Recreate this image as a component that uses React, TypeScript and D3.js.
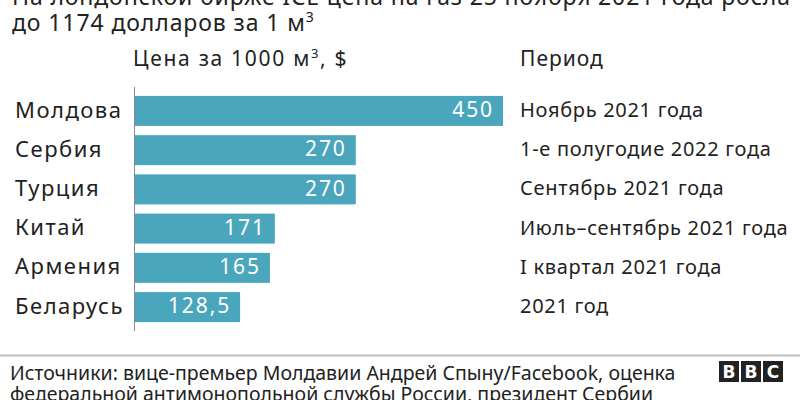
import React from "react";
import * as d3 from "d3";

const countries = ["Молдова", "Сербия", "Турция", "Китай", "Армения", "Беларусь"];
const prices = [450, 270, 270, 171, 165, 128.5];
const priceLabels = ["450", "270", "270", "171", "165", "128,5"];
const periods = [
  "Ноябрь 2021 года",
  "1-е полугодие 2022 года",
  "Сентябрь 2021 года",
  "Июль–сентябрь 2021 года",
  "I квартал 2021 года",
  "2021 год",
];
const titleLines = [
  "На лондонской бирже ICE цена на газ 25 ноября 2021 года росла",
  "до 1174 долларов за 1 м",
];
const sourceLines = [
  "Источники: вице-премьер Молдавии Андрей Спыну/Facebook, оценка",
  "федеральной антимонопольной службы России, президент Сербии",
];

const W = 800;
const H = 400;
const BAR = "#4aa6bc";
const TXT = "#222222";
const font = "'Noto Sans', 'Open Sans', sans-serif";

export default function App() {
  const x = d3.scaleLinear().domain([0, 450]).range([135, 503]);
  const y = d3
    .scaleBand<string>()
    .domain(countries)
    .range([92, 326])
    .paddingInner(0.235)
    .paddingOuter(0.1);

  return (
    <svg
      width={W}
      height={H}
      style={{ position: "absolute", left: 0, top: 0, background: "#fff" }}
      fontFamily={font}
    >
      <text x={12} y={5} fontSize={23} fill={TXT} textLength={778} lengthAdjust="spacing">
        {titleLines[0]}
      </text>
      <text x={12} y={31} fontSize={23} letterSpacing={0.9} fill={TXT}>
        {titleLines[1]}
        <tspan fontSize={14} dy={-9}>3</tspan>
      </text>

      <text x={133} y={66} fontSize={21} letterSpacing={1.7} fill={TXT}>
        Цена за 1000 м<tspan fontSize={13} dy={-8}>3</tspan>
        <tspan dy={8}>, $</tspan>
      </text>
      <text x={520} y={66} fontSize={21} letterSpacing={1} fill={TXT}>
        Период
      </text>

      {countries.map((c, i) => {
        const yy = y(c)!;
        const bh = y.bandwidth();
        const cy = yy + bh / 2;
        return (
          <g key={c}>
            <rect x={x(0)} y={yy} width={x(prices[i]) - x(0)} height={bh} fill={BAR} />
            <text
              x={x(prices[i]) - 9}
              y={cy}
              dy="0.3em"
              textAnchor="end"
              fontSize={21}
              letterSpacing={1.9}
              fill="#fff"
            >
              {priceLabels[i]}
            </text>
            <text x={15} y={cy} dy="0.3em" fontSize={22} letterSpacing={1.5} fill={TXT}>
              {c}
            </text>
            <text x={520} y={cy} dy="0.3em" fontSize={20} letterSpacing={0.7} fill={TXT}>
              {periods[i]}
            </text>
          </g>
        );
      })}

      <line x1={134.5} x2={134.5} y1={87} y2={331} stroke="#8a8a8a" strokeWidth={1} />

      <line x1={0} x2={800} y1={355.5} y2={355.5} stroke="#bfbfbf" strokeWidth={2} />
      <text x={10} y={380} fontSize={19.5} fill={TXT}>
        {sourceLines[0]}
      </text>
      <text x={10} y={401} fontSize={19.5} fill={TXT}>
        {sourceLines[1]}
      </text>

      {["B", "B", "C"].map((l, i) => (
        <g key={i}>
          <rect x={719 + i * 22} y={361} width={20} height={21} fill="#222" />
          <text
            x={729 + i * 22}
            y={378}
            textAnchor="middle"
            fontFamily="'DejaVu Sans', sans-serif"
            fontWeight="bold"
            fontSize={17}
            fill="#fff"
          >
            {l}
          </text>
        </g>
      ))}
    </svg>
  );
}
